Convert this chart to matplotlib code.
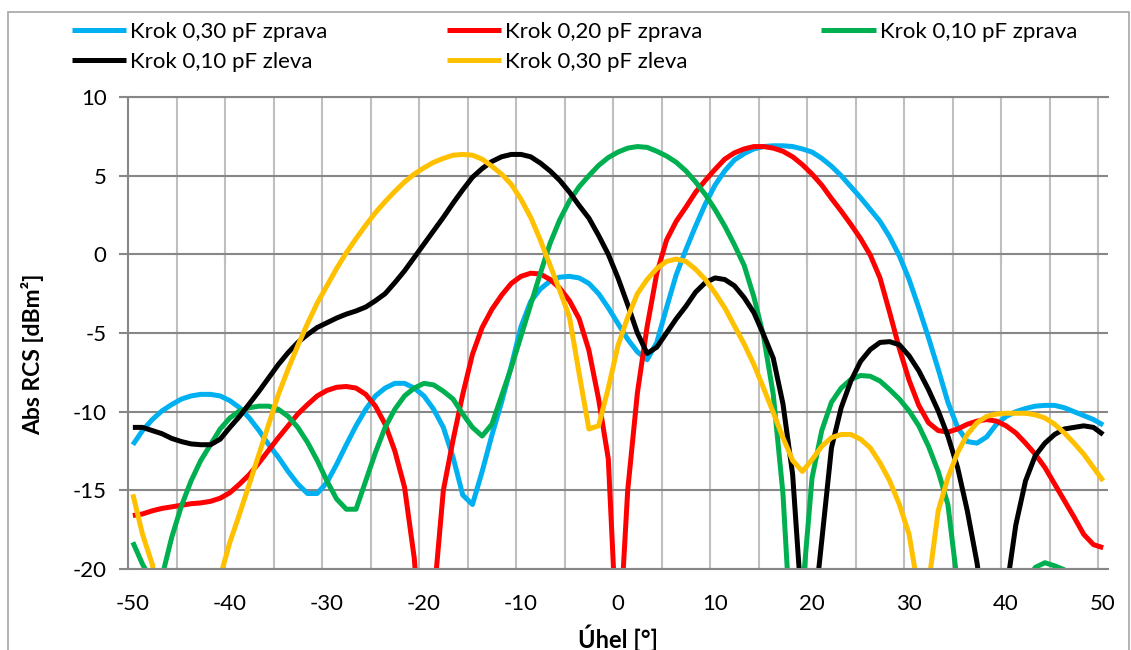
import numpy as np
import matplotlib
matplotlib.use('Agg')
import matplotlib.pyplot as plt
from matplotlib.patches import Rectangle

plt.rcParams['font.family'] = ['Lato', 'DejaVu Sans']
plt.rcParams['axes.unicode_minus'] = False

# uhel = kategorie na ose x (po 1 stupni)
uhel = np.arange(-50, 51)

krok030_zprava = [
    -12.1, -11.2, -10.5, -9.95, -9.55, -9.2, -9.0, -8.9, -8.9, -9.0,
    -9.3, -9.75, -10.4, -11.2, -12.1, -12.9, -13.8, -14.6, -15.2, -15.2,
    -14.5, -13.35, -12.1, -10.9, -9.85, -9.0, -8.5, -8.2, -8.2, -8.5,
    -9.0, -9.85, -11.0, -12.9, -15.3, -15.9, -13.8, -11.5, -9.4, -7.1,
    -4.6, -3.0, -2.2, -1.7, -1.45, -1.4, -1.5, -1.85, -2.5, -3.4,
    -4.4, -5.4, -6.2, -6.7, -5.6, -3.4, -1.3, 0.3, 1.8, 3.2,
    4.4, 5.3, 6.0, 6.4, 6.7, 6.85, 6.9, 6.9, 6.85, 6.7,
    6.5, 6.1, 5.6, 5.0, 4.3, 3.6, 2.85, 2.1, 1.1, -0.1,
    -1.6, -3.4, -5.3, -7.3, -9.4, -11.0, -11.9, -12.0, -11.6, -10.8,
    -10.3, -10.0, -9.8, -9.65, -9.6, -9.6, -9.75, -10.0, -10.25, -10.5,
    -10.85]

krok020_zprava = [
    -16.6, -16.5, -16.3, -16.15, -16.05, -15.95, -15.85, -15.8, -15.7, -15.5,
    -15.15, -14.6, -14.0, -13.25, -12.45, -11.65, -10.9, -10.15, -9.55, -9.0,
    -8.65, -8.45, -8.4, -8.5, -8.9, -9.65, -10.8, -12.5, -14.8, -19.3,
    -27.0, -22.0, -15.0, -11.8, -8.9, -6.35, -4.65, -3.5, -2.6, -1.85,
    -1.4, -1.2, -1.25, -1.6, -2.15, -2.95, -4.1, -6.1, -9.2, -13.0,
    -26.0, -15.0, -8.8, -4.6, -1.2, 0.9, 2.1, 3.0, 3.95, 4.7,
    5.4, 6.05, 6.45, 6.7, 6.85, 6.85, 6.75, 6.55, 6.2, 5.7,
    5.1, 4.4, 3.55, 2.75, 1.9, 1.0, -0.05, -1.5, -3.7, -6.0,
    -8.0, -9.6, -10.7, -11.2, -11.3, -11.1, -10.8, -10.6, -10.5, -10.6,
    -10.9, -11.35, -12.0, -12.7, -13.55, -14.6, -15.65, -16.7, -17.8, -18.45,
    -18.65]

krok010_zprava = [
    -18.3, -19.7, -20.8, -20.5, -18.0, -16.0, -14.4, -13.1, -12.1, -11.1,
    -10.4, -9.95, -9.75, -9.65, -9.65, -9.85, -10.3, -11.0, -11.95, -13.1,
    -14.4, -15.55, -16.2, -16.2, -14.4, -12.6, -11.0, -9.85, -9.0, -8.5,
    -8.2, -8.3, -8.7, -9.2, -10.15, -11.0, -11.55, -10.8, -9.0, -7.2,
    -5.2, -3.2, -1.2, 0.7, 2.2, 3.4, 4.3, 5.0, 5.65, 6.15,
    6.5, 6.75, 6.85, 6.8, 6.55, 6.25, 5.85, 5.3, 4.6, 3.8,
    2.85, 1.8, 0.6, -0.7, -2.7, -5.2, -8.9, -15.2, -26.0, -21.5,
    -14.2, -11.2, -9.4, -8.5, -7.95, -7.7, -7.75, -8.05, -8.6, -9.2,
    -9.95, -10.9, -12.2, -13.8, -15.9, -21.0, -25.0, -28.0, -30.0, -30.0,
    -27.0, -24.0, -21.0, -19.9, -19.6, -19.8, -20.05, -22.0, -25.0, -27.0,
    -28.0]

krok010_zleva = [
    -11.0, -11.0, -11.2, -11.4, -11.7, -11.9, -12.05, -12.1, -12.1, -11.75,
    -11.0, -10.3, -9.5, -8.7, -7.85, -7.0, -6.25, -5.6, -5.1, -4.65,
    -4.35, -4.05, -3.8, -3.6, -3.35, -2.95, -2.5, -1.8, -1.05, -0.2,
    0.65, 1.5, 2.35, 3.25, 4.1, 4.9, 5.45, 5.9, 6.2, 6.35,
    6.35, 6.2, 5.8, 5.3, 4.7, 3.95, 3.1, 2.3, 1.2, 0.0,
    -1.5, -3.2, -5.0, -6.3, -5.9, -5.0, -4.1, -3.3, -2.4, -1.8,
    -1.5, -1.6, -2.0, -2.75, -3.7, -5.1, -6.6, -9.5, -14.0, -23.0,
    -24.0, -18.2, -12.3, -9.75, -8.05, -6.8, -6.05, -5.6, -5.55, -5.75,
    -6.45, -7.4, -8.6, -9.95, -11.55, -13.55, -16.3, -19.6, -24.0, -30.0,
    -21.5, -17.2, -14.4, -12.8, -12.0, -11.45, -11.1, -11.0, -10.9, -11.0,
    -11.45]

krok030_zleva = [
    -15.25, -17.8, -19.7, -23.0, -27.0, -30.0, -30.0, -28.0, -24.0, -20.5,
    -18.3, -16.5, -14.6, -12.7, -10.8, -8.9, -7.3, -5.8, -4.4, -3.1,
    -2.0, -0.9, 0.1, 1.0, 1.85, 2.65, 3.35, 4.0, 4.6, 5.1,
    5.5, 5.85, 6.1, 6.3, 6.35, 6.3, 6.05, 5.6, 5.1, 4.45,
    3.5, 2.35, 0.9, -0.7, -2.3, -4.0, -7.6, -11.1, -10.9, -8.5,
    -5.8, -4.0, -2.5, -1.6, -0.9, -0.45, -0.3, -0.45, -0.95, -1.6,
    -2.45, -3.4, -4.55, -5.7, -7.0, -8.5, -10.05, -11.65, -13.1, -13.8,
    -13.05, -12.2, -11.65, -11.45, -11.45, -11.75, -12.3, -13.25, -14.4, -15.9,
    -17.8, -21.5, -21.0, -16.3, -14.2, -12.6, -11.45, -10.7, -10.3, -10.15,
    -10.1, -10.1, -10.1, -10.2, -10.4, -10.8, -11.35, -12.0, -12.7, -13.55,
    -14.4]

serie = [krok030_zprava, krok020_zprava, krok010_zprava, krok010_zleva, krok030_zleva]
popisky = ['Krok 0,30 pF zprava', 'Krok 0,20 pF zprava', 'Krok 0,10 pF zprava',
           'Krok 0,10 pF zleva', 'Krok 0,30 pF zleva']
barvy = ['#00B0F0', '#FF0000', '#00B050', '#000000', '#FFC000']

seda = '#878787'
svetla = '#BFBFBF'

fig = plt.figure(figsize=(11.31, 6.5), dpi=100)
fig.patches.append(Rectangle((8 / 1131, -0.05), 1121 / 1131, 1.05 - 12 / 650,
                             transform=fig.transFigure, fill=False,
                             edgecolor='#A6A6A6', lw=1.2))

ax = fig.add_axes([128 / 1131, 81 / 650, 980 / 1131, 472 / 650])

lines = []
for y, lab, c in zip(serie, popisky, barvy):
    l, = ax.plot(uhel, y, color=c, lw=3.6, label=lab,
                 solid_joinstyle='round', solid_capstyle='butt')
    lines.append(l)

ax.set_xlim(-50.5, 50.5)
ax.set_ylim(-20, 10)
ax.set_xticks(range(-50, 51, 10))
ax.set_xticks(np.arange(-45.5, 50, 5), minor=True)
ax.set_yticks(range(-20, 11, 5))
ax.grid(which='minor', axis='x', color=svetla, lw=1.5)
ax.grid(which='major', axis='y', color=seda, lw=1.5)
ax.set_axisbelow(True)

ax.tick_params(axis='x', which='both', length=0, pad=18, labelsize=16)
ax.tick_params(axis='y', length=6.5, width=1.5, color=seda, pad=9, labelsize=16)

ax.spines['right'].set_visible(False)
for s in ['left', 'top', 'bottom']:
    ax.spines[s].set_color(seda)
    ax.spines[s].set_linewidth(1.5)

# znacky na vodorovne ose (y = 0)
sec = ax.secondary_xaxis(20 / 30)
sec.set_alignment('bottom')
sec.set_xticks(np.arange(-40.5, 50, 10))
sec.tick_params(axis='x', direction='out', length=5, width=1.5, color=seda,
                labelbottom=False, labeltop=False)
for s in sec.spines.values():
    s.set_visible(False)

ax.set_xlabel('Úhel [°]', fontsize=17, fontweight='bold')
ax.set_ylabel('Abs RCS [dBm²]', fontsize=16.5, fontweight='bold')
ax.xaxis.set_label_coords(0.5, -0.118)
ax.yaxis.set_label_coords(-0.086, 0.455)

poradi = [0, 3, 1, 4, 2]
fig.legend([lines[i] for i in poradi], [popisky[i] for i in poradi],
           ncol=3, loc='upper left', bbox_to_anchor=(72 / 1131, 1 - 22 / 650),
           frameon=False, fontsize=16, handlelength=2.45, handletextpad=0.18,
           columnspacing=5.35, labelspacing=0.44, borderpad=0, borderaxespad=0)

fig.savefig('out.png', dpi=100)
